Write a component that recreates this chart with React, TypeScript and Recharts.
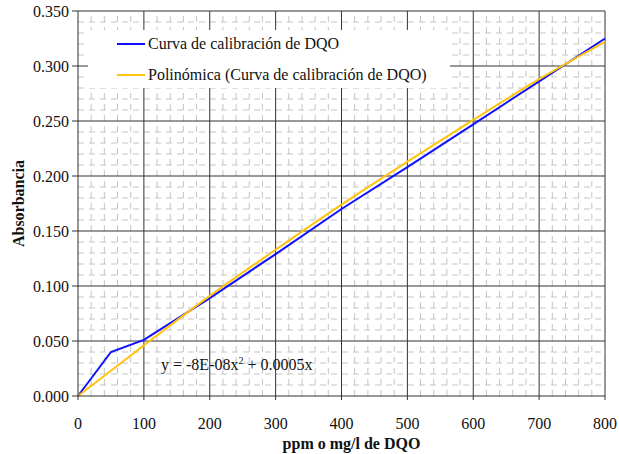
import React from 'react';
import { LineChart, Line, XAxis, YAxis, ReferenceLine } from 'recharts';

const concentrations = [0, 50, 100, 200, 300, 400, 500, 600, 700, 800];
const absorbance = [0, 0.04, 0.051, 0.089, 0.129, 0.17, 0.208, 0.247, 0.286, 0.325];
const polyTrend = [0, 0.023, 0.046, 0.091, 0.133, 0.174, 0.213, 0.251, 0.288, 0.322];

const xTicks = [0, 100, 200, 300, 400, 500, 600, 700, 800];
const yTicks = [0, 0.05, 0.1, 0.15, 0.2, 0.25, 0.3, 0.35];

const xMinor = Array.from({ length: 41 }, (_, i) => i * 20).filter((v) => v % 100 !== 0);
const yMinor = Array.from({ length: 36 }, (_, i) => +(i * 0.01).toFixed(2)).filter((v) => Math.round(v * 100) % 5 !== 0);

const data = concentrations.map((x, i) => ({ x, curva: absorbance[i], poli: polyTrend[i] }));

const serif = '"Liberation Serif", "Times New Roman", serif';
const major = '#333333';
const minor = '#c4c4c4';

const pageCss = `
body { margin: 0; }
.recharts-surface { overflow: visible; }
.recharts-text, .recharts-label { font-family: "Liberation Serif", "Times New Roman", serif; }
`;

const LegendBox = () => (
  <div
    style={{
      position: 'absolute',
      left: 88,
      top: 30,
      width: 362,
      height: 58,
      background: '#fff',
      fontFamily: serif,
      fontSize: 16,
      color: '#111',
    }}
  >
    {[
      { color: '#1010ff', name: 'Curva de calibración de DQO', top: 5 },
      { color: '#ffc20e', name: 'Polinómica (Curva de calibración de DQO)', top: 36 },
    ].map((it) => (
      <div key={it.name} style={{ position: 'absolute', left: 29, top: it.top, display: 'flex', alignItems: 'center', whiteSpace: 'nowrap' }}>
        <span style={{ display: 'inline-block', width: 28, height: 2, background: it.color, marginRight: 3 }} />
        <span>{it.name}</span>
      </div>
    ))}
  </div>
);

export default function App() {
  return (
    <div style={{ position: 'relative', width: 619, height: 454, fontFamily: serif }}>
      <style>{pageCss}</style>
      <LineChart width={619} height={454} data={data} margin={{ top: 11, right: 14, left: 0, bottom: 0 }}>
        <XAxis
          dataKey="x"
          type="number"
          domain={[0, 800]}
          ticks={xTicks}
          interval={0}
          height={58}
          tickSize={4}
          tickMargin={18}
          stroke={major}
          tick={{ fill: '#111', fontSize: 16 }}
          label={{ value: 'ppm o mg/l de DQO', position: 'insideBottom', offset: 5, dx: 10, style: { fill: '#111', fontSize: 16, fontWeight: 'bold' } }}
        />
        <YAxis
          type="number"
          domain={[0, 0.35]}
          ticks={yTicks}
          interval={0}
          width={78}
          tickSize={6}
          tickMargin={3}
          stroke={major}
          tickFormatter={(v: number) => v.toFixed(3)}
          tick={{ fill: '#111', fontSize: 16 }}
          label={{ value: 'Absorbancia', angle: -90, position: 'insideLeft', offset: 18, style: { textAnchor: 'middle', fill: '#111', fontSize: 16, fontWeight: 'bold' } }}
        />
        {xMinor.map((v) => (
          <ReferenceLine key={'xm' + v} x={v} stroke={minor} strokeDasharray="6 5" />
        ))}
        {yMinor.map((v) => (
          <ReferenceLine key={'ym' + v} y={v} stroke={minor} strokeDasharray="6 5" />
        ))}
        {xTicks.slice(1).map((v) => (
          <ReferenceLine key={'xM' + v} x={v} stroke={major} />
        ))}
        {yTicks.slice(1).map((v) => (
          <ReferenceLine key={'yM' + v} y={v} stroke={major} />
        ))}
        <Line type="linear" dataKey="curva" stroke="#1010ff" strokeWidth={2} dot={false} isAnimationActive={false} />
        <Line type="monotone" dataKey="poli" stroke="#ffc20e" strokeWidth={2} dot={false} isAnimationActive={false} />
      </LineChart>
      <LegendBox />
      <div
        style={{
          position: 'absolute',
          left: 161,
          top: 355,
          fontSize: 16,
          color: '#111',
          whiteSpace: 'nowrap',
        }}
      >
        y = -8E-08x<sup style={{ fontSize: 10 }}>2</sup> + 0.0005x
      </div>
    </div>
  );
}
